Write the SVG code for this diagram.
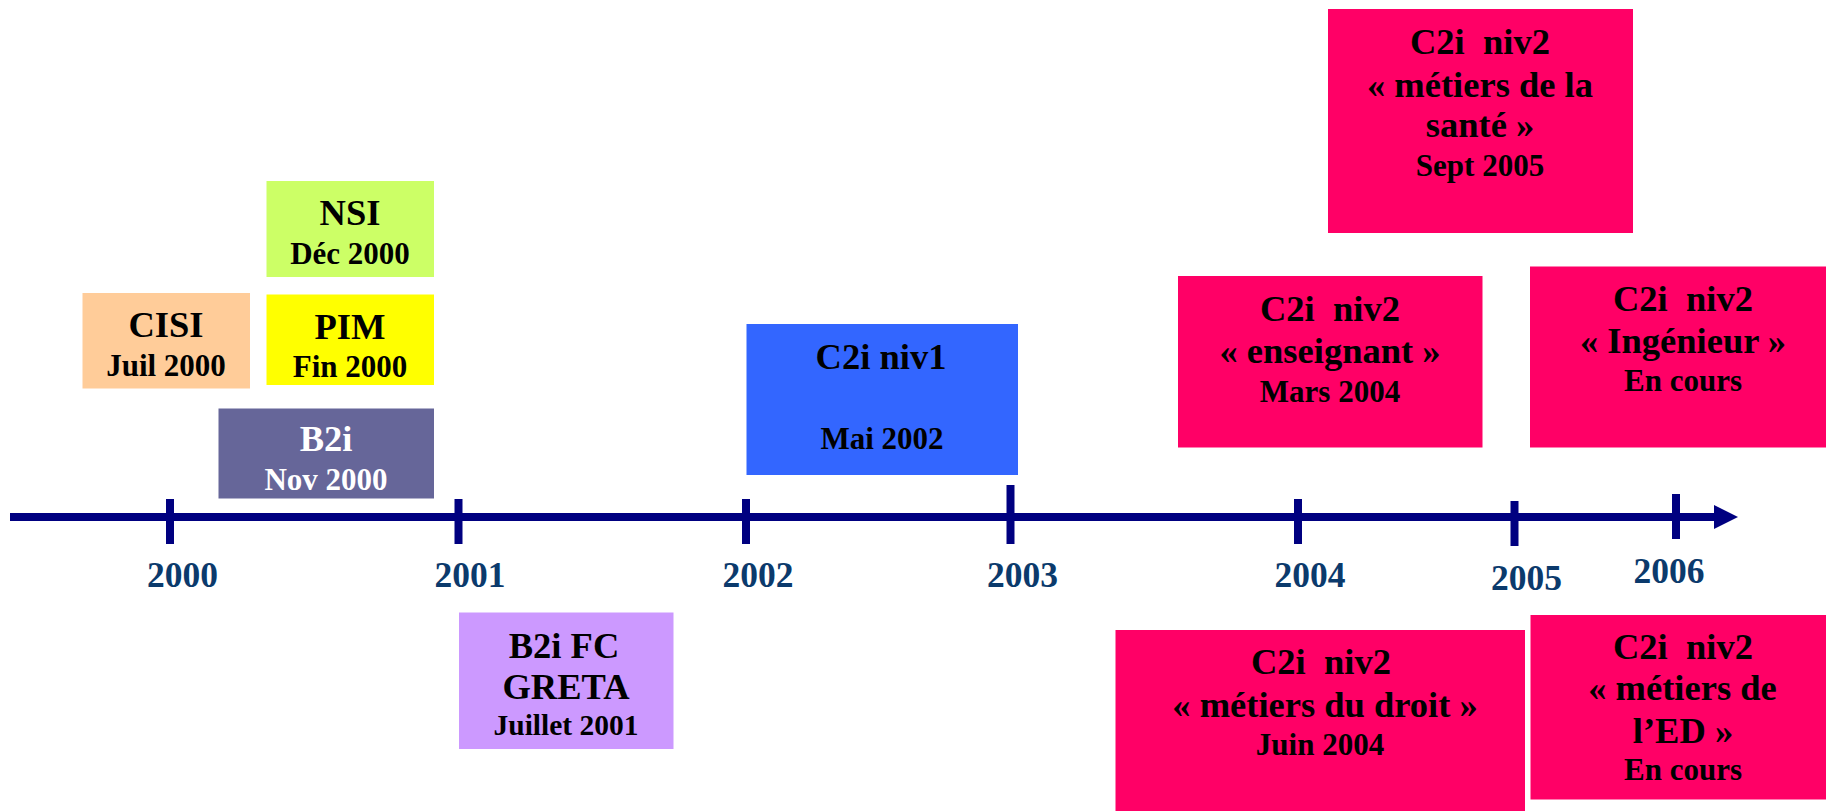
<svg xmlns="http://www.w3.org/2000/svg" width="1826" height="811" viewBox="0 0 1826 811">
<style>
text{font-family:"Liberation Serif","Times New Roman",serif;font-weight:bold;text-anchor:middle;fill:#000}
.t{font-size:36.5px}
.s{font-size:31px}
.w{fill:#fff}
.yr{font-size:35.5px;fill:#0B3A6C}
.ax{stroke:#000080;stroke-width:8;fill:none}
</style>
<rect width="1826" height="811" fill="#fff"/>
<g id="connectors">
<line class="ax" x1="10" y1="517" x2="1716" y2="517"/>
<polygon points="1714,505 1738,517 1714,529" fill="#000080"/>
<line class="ax" x1="170" y1="499" x2="170" y2="544"/>
<line class="ax" x1="458.5" y1="499" x2="458.5" y2="544"/>
<line class="ax" x1="746" y1="499" x2="746" y2="544"/>
<line class="ax" x1="1010.5" y1="485" x2="1010.5" y2="544"/>
<line class="ax" x1="1298" y1="499" x2="1298" y2="544"/>
<line class="ax" x1="1514.5" y1="501" x2="1514.5" y2="546"/>
<line class="ax" x1="1676" y1="494" x2="1676" y2="539"/>
</g>
<g id="years">
<text class="yr" x="182.5" y="587">2000</text>
<text class="yr" x="470" y="587">2001</text>
<text class="yr" x="758" y="587">2002</text>
<text class="yr" x="1022.5" y="587">2003</text>
<text class="yr" x="1310" y="587">2004</text>
<text class="yr" x="1526.5" y="589.5">2005</text>
<text class="yr" x="1669" y="582.5">2006</text>
</g>
<g id="nsi">
<rect x="266.5" y="181" width="167.5" height="96" fill="#CCFF66"/>
<text class="t" x="350" y="224.5">NSI</text>
<text class="s" x="350" y="264">Déc 2000</text>
</g>
<g id="cisi">
<rect x="82.5" y="293" width="167.5" height="95.5" fill="#FFCC99"/>
<text class="t" x="166" y="336.5">CISI</text>
<text class="s" x="166" y="376">Juil 2000</text>
</g>
<g id="pim">
<rect x="266.5" y="294.5" width="167.5" height="90.5" fill="#FFFF00"/>
<text class="t" x="350" y="338.5">PIM</text>
<text class="s" x="350" y="376.5">Fin 2000</text>
</g>
<g id="b2i">
<rect x="218.5" y="408.5" width="215.5" height="90" fill="#666699"/>
<text class="t w" x="326" y="451">B2i</text>
<text class="s w" x="326" y="490">Nov 2000</text>
</g>
<g id="b2ifc">
<rect x="459" y="612.5" width="214.5" height="136.5" fill="#CC99FF"/>
<text class="t" x="564" y="657.5">B2i FC</text>
<text class="t" x="566" y="698.5">GRETA</text>
<text class="s" x="566" y="734.5" style="font-size:29.5px">Juillet 2001</text>
</g>
<g id="c2i1">
<rect x="746.5" y="324" width="271.5" height="151" fill="#3366FF"/>
<text class="t" x="881" y="368.5">C2i niv1</text>
<text class="s" x="882" y="449">Mai 2002</text>
</g>
<g id="sante">
<rect x="1328" y="9" width="305" height="224" fill="#FF0066"/>
<text class="t" x="1480" y="54" xml:space="preserve">C2i  niv2</text>
<text class="t" x="1480" y="96.5">« métiers de la</text>
<text class="t" x="1480" y="136.5">santé »</text>
<text class="s" x="1480" y="176">Sept 2005</text>
</g>
<g id="enseignant">
<rect x="1178" y="276" width="304.5" height="171.5" fill="#FF0066"/>
<text class="t" x="1330" y="320.5" xml:space="preserve">C2i  niv2</text>
<text class="t" x="1330" y="362.5">« enseignant »</text>
<text class="s" x="1330" y="401.5">Mars 2004</text>
</g>
<g id="ingenieur">
<rect x="1530" y="266.5" width="296" height="181" fill="#FF0066"/>
<text class="t" x="1683" y="310.5" xml:space="preserve">C2i  niv2</text>
<text class="t" x="1683" y="352.5">« Ingénieur »</text>
<text class="s" x="1683" y="390.5">En cours</text>
</g>
<g id="droit">
<rect x="1115.5" y="630" width="409.5" height="181" fill="#FF0066"/>
<text class="t" x="1321" y="673.5" xml:space="preserve">C2i  niv2</text>
<text class="t" x="1325" y="716.5">« métiers du droit »</text>
<text class="s" x="1320" y="755">Juin 2004</text>
</g>
<g id="ed">
<rect x="1530.5" y="615" width="295.5" height="184.5" fill="#FF0066"/>
<text class="t" x="1683" y="658.5" xml:space="preserve">C2i  niv2</text>
<text class="t" x="1682.5" y="700">« métiers de</text>
<text class="t" x="1683" y="742.5">l’ED »</text>
<text class="s" x="1683" y="780">En cours</text>
</g>
</svg>
